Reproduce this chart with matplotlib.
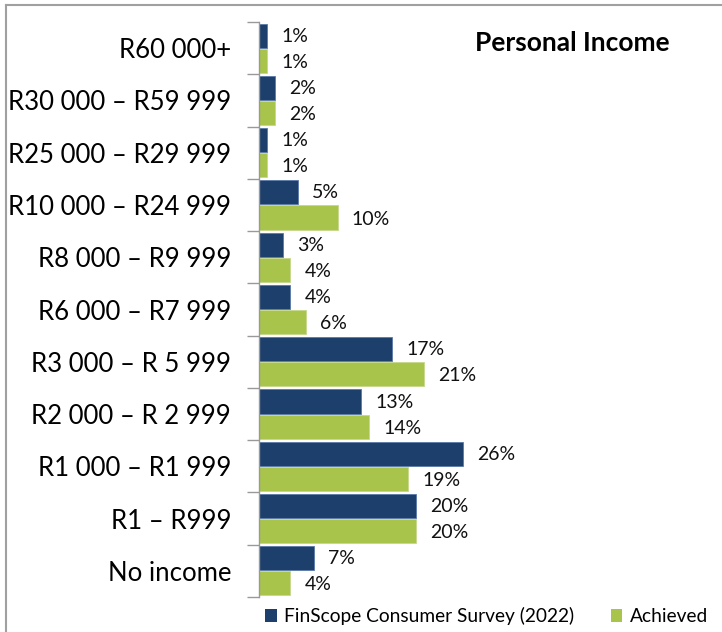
import numpy as np
import matplotlib.pyplot as plt
from matplotlib.lines import Line2D

plt.rcParams['font.family'] = ['Lato', 'DejaVu Sans']

categories = ["R60 000+", "R30 000 \u2013 R59 999", "R25 000 \u2013 R29 999",
              "R10 000 \u2013 R24 999", "R8 000 \u2013 R9 999", "R6 000 \u2013 R7 999",
              "R3 000 \u2013 R 5 999", "R2 000 \u2013 R 2 999", "R1 000 \u2013 R1 999",
              "R1 \u2013 R999", "No income"]
finscope = [1, 2, 1, 5, 3, 4, 17, 13, 26, 20, 7]
achieved = [1, 2, 1, 10, 4, 6, 21, 14, 19, 20, 4]
series_names = ["FinScope Consumer Survey (2022)", "Achieved"]

blue = "#1c3f6b"
green = "#a8c44a"

W, H = 722, 632
fig = plt.figure(figsize=(W / 100, H / 100), dpi=100)
ax = fig.add_axes([259 / W, 1 - 597 / H, (712 - 259) / W, (597 - 22) / H])

n = len(categories)
y = np.arange(n)
h = 0.46
ax.barh(y - h / 2 - 0.01, finscope, height=h, color=blue, edgecolor="#5a7aa8", linewidth=0.6, label=series_names[0])
ax.barh(y + h / 2 + 0.01, achieved, height=h, color=green, edgecolor="#c5d88a", linewidth=0.6, label=series_names[1])

for i in range(n):
    ax.text(finscope[i] + 1.8, y[i] - h / 2 + 0.0, f"{finscope[i]}%", va="center", ha="left", fontsize=14, color="#111111")
    ax.text(achieved[i] + 1.8, y[i] + h / 2 + 0.04, f"{achieved[i]}%", va="center", ha="left", fontsize=14, color="#111111")

ax.set_ylim(n - 0.5, -0.5)
ax.set_xlim(0, (712 - 259) / 7.85)
ax.set_yticks(np.arange(-0.5, n, 1), minor=False)
ax.set_yticklabels([])
ax.set_yticks(y, minor=True)
ax.set_yticklabels(categories, minor=True, fontsize=18.5)
ax.tick_params(axis="y", which="minor", length=0, pad=20)
ax.tick_params(axis="y", which="major", length=9, color="#999999", width=1)
ax.set_xticks([])
for s in ["top", "right", "bottom"]:
    ax.spines[s].set_visible(False)
ax.spines["left"].set_color("#999999")
ax.spines["left"].set_linewidth(1)

fig.text(670 / W, 1 - 43 / H, "Personal Income", ha="right", va="center", fontsize=19, fontweight="bold")

leg = fig.legend(loc="lower right", bbox_to_anchor=(716 / W, -1 / H), ncol=2, frameon=False,
                 fontsize=13.8, handlelength=0.6, handleheight=0.6, handletextpad=0.4,
                 columnspacing=1.9, borderaxespad=0)
for hd in leg.legend_handles:
    hd.set_edgecolor("none")

# thin frame on the top and left edges
fig.add_artist(Line2D([6 / W, 6 / W], [0, 1 - 5 / H], color="#a0a0a0", lw=1.5, transform=fig.transFigure))
fig.add_artist(Line2D([6 / W, 1], [1 - 5 / H, 1 - 5 / H], color="#a0a0a0", lw=1.5, transform=fig.transFigure))

fig.savefig("out.png", dpi=100)
